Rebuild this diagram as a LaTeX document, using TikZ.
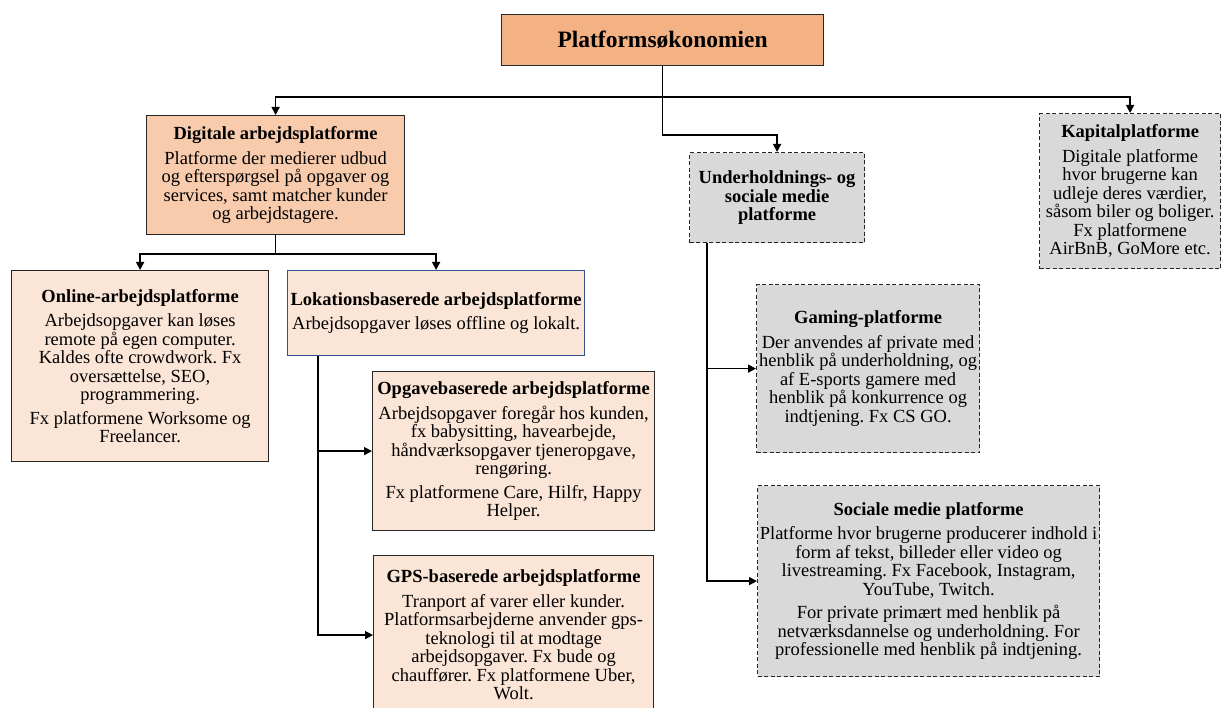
\documentclass[tikz,border=0pt]{standalone}
\usepackage{fontspec}
\setmainfont{Liberation Serif}
\usetikzlibrary{arrows.meta,calc}

\definecolor{rootfill}{HTML}{F4B183}
\definecolor{digifill}{HTML}{F8CBAD}
\definecolor{workfill}{HTML}{FBE5D6}
\definecolor{greyfill}{HTML}{D9D9D9}
\definecolor{lokline}{HTML}{2F528F}
\newcommand{\boxtitle}[1]{\textbf{#1}\\[6pt]}

\begin{document}
\frenchspacing
\begin{tikzpicture}[x=1pt,y=-1pt,
    pbox/.style={draw=black!85,line width=1.2pt,anchor=north west,align=center,
        inner xsep=0pt,inner ysep=0pt,font=\fontsize{18.5}{18.5}\selectfont},
    workbox/.style={pbox,fill=workfill},
    greybox/.style={pbox,fill=greyfill,dash pattern=on 4pt off 2.5pt},
    link/.style={line width=1.5pt},
    arr/.style={link,-{Triangle[length=8pt,width=8pt]}}]
    \useasboundingbox (0,0) rectangle (1221,708);

    % top level
    \node[pbox,fill=rootfill,minimum width=322pt,minimum height=51pt,
        font=\fontsize{23.5}{26}\selectfont\bfseries] (root) at (501,14) {Platformsøkonomien};
    \node[pbox,fill=digifill,minimum width=258pt,minimum height=119pt] (digi) at (146,115)
        {\boxtitle{Digitale arbejdsplatforme}Platforme der medierer udbud\\ og efterspørgsel på opgaver og\\ services, samt matcher kunder\\ og arbejdstagere.};
    \node[greybox,minimum width=175pt,minimum height=90pt,font=\fontsize{18.5}{18.5}\selectfont\bfseries] (under) at (689,152)
        {Underholdnings- og\\ sociale medie\\ platforme};
    \node[greybox,minimum width=181pt,minimum height=155pt] (kap) at (1039,113)
        {\boxtitle{Kapitalplatforme}Digitale platforme\\ hvor brugerne kan\\ udleje deres værdier,\\ såsom biler og boliger.\\ Fx platformene\\ AirBnB, GoMore etc.};

    % digitale
    \node[workbox,minimum width=257pt,minimum height=191pt] (online) at (11,270)
        {\boxtitle{Online-arbejdsplatforme}Arbejdsopgaver kan løses\\ remote på egen computer.\\ Kaldes ofte crowdwork. Fx\\ oversættelse, SEO,\\ programmering.\\[5pt] Fx platformene Worksome og\\ Freelancer.};
    \node[workbox,draw=lokline,minimum width=297pt,minimum height=85pt] (lok) at (287,270)
        {\boxtitle{Lokationsbaserede arbejdsplatforme}Arbejdsopgaver løses offline og lokalt.};
    \node[workbox,minimum width=282pt,minimum height=159pt] (opg) at (372,371)
        {\boxtitle{Opgavebaserede arbejdsplatforme}Arbejdsopgaver foregår hos kunden,\\ fx babysitting, havearbejde,\\ håndværksopgaver tjeneropgave,\\ rengøring.\\[5pt] Fx platformene Care, Hilfr, Happy\\ Helper.};
    \node[workbox,minimum width=280pt,minimum height=159pt] (gps) at (373,555)
        {\boxtitle{GPS-baserede arbejdsplatforme}Tranport af varer eller kunder.\\ Platformsarbejderne anvender gps-\\ teknologi til at modtage\\ arbejdsopgaver. Fx bude og\\ chauffører. Fx platformene Uber,\\ Wolt.};

    % underholdning
    \node[greybox,minimum width=223pt,minimum height=168pt] (gaming) at (756,284)
        {\boxtitle{Gaming-platforme}Der anvendes af private med\\ henblik på underholdning, og\\ af E-sports gamere med\\ henblik på konkurrence og\\ indtjening. Fx CS GO.};
    \node[greybox,minimum width=342pt,minimum height=191pt] (social) at (757,485)
        {\boxtitle{Sociale medie platforme}Platforme hvor brugerne producerer indhold i\\ form af tekst, billeder eller video og\\ livestreaming. Fx Facebook, Instagram,\\ YouTube, Twitch.\\[5pt] For private primært med henblik på\\ netværksdannelse og underholdning. For\\ professionelle med henblik på indtjening.};

    % connectors
    \coordinate (bus) at (662,97);
    \draw[arr] (root.south) -- (root |- bus) -| (digi.north);
    \draw[arr] (root |- bus) -| (kap.north);
    \draw[arr] (root.south) -- ++(0,69) -| (under.north);
    \draw[arr] (digi.south) -- ++(0,19) -| (online.north);
    \draw[arr] (digi.south) -- ++(0,19) -| (lok.north);
    \draw[arr] ($(lok.south west)+(31,0)$) |- (opg.west);
    \draw[arr] ($(lok.south west)+(31,0)$) |- (gps.west);
    \draw[arr] ($(under.south west)+(18,0)$) |- (gaming.west);
    \draw[arr] ($(under.south west)+(18,0)$) |- (social.west);
\end{tikzpicture}
\end{document}
